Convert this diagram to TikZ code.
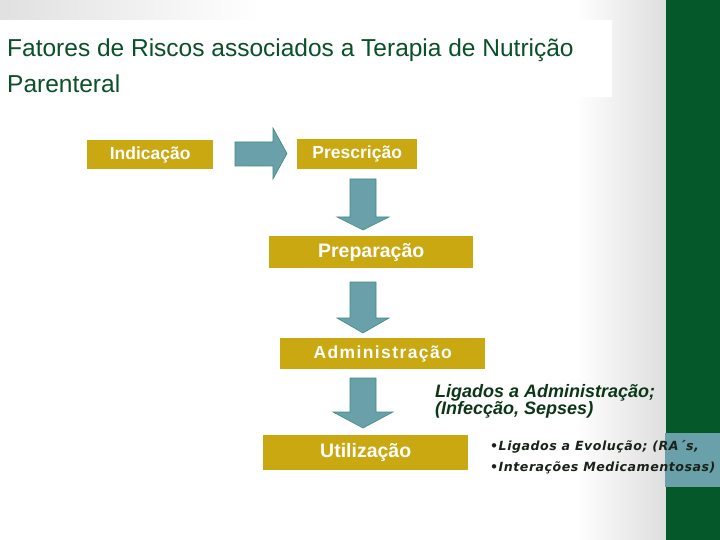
\documentclass[tikz,border=0pt]{standalone}
\usepackage{fontspec}
\setmainfont{Liberation Sans}
\newfontfamily\titlefont{Liberation Sans}
\newfontfamily\notefont[LetterSpace=4]{DejaVu Sans}
\usetikzlibrary{calc}
\definecolor{gold}{RGB}{201,168,18}
\definecolor{tealfill}{RGB}{106,160,170}
\definecolor{tealline}{RGB}{60,140,130}
\definecolor{bandgreen}{RGB}{4,88,42}
\definecolor{titlegreen}{RGB}{10,80,40}
\definecolor{notegreen}{RGB}{12,55,22}
\definecolor{notedark}{RGB}{25,35,25}
\tikzset{
  stagebox/.style={fill=gold, text=white, inner sep=0pt, anchor=north west, font=\bfseries},
  blockarrow/.style={fill=tealfill, draw=tealline, line width=0.6pt, line join=miter},
}
\begin{document}
\begin{tikzpicture}[x=1pt,y=-1pt]
\useasboundingbox (0,0) rectangle (720,540);
% background
\fill[white] (0,0) rectangle (720,540);
\shade[left color=white, right color=black!13] (575,0) rectangle (666,540);
\shade[left color=black!12, right color=white] (0,0) rectangle (260,20);
\fill[white] (0,20) rectangle (612,97);
\fill[bandgreen] (666,0) rectangle (720,540);
\fill[tealfill] (665,433) rectangle (720,487);
% title
\node[anchor=base west, inner sep=0pt, text=titlegreen, font=\titlefont\fontsize{24.5}{36}\selectfont, align=left] (title) at (7,93)
  {Fatores de Riscos associados a Terapia de Nutrição\\Parenteral};
% boxes
\node[stagebox, minimum width=126pt, minimum height=29pt, font=\bfseries\fontsize{17.5}{20}\selectfont] (ind) at (87,140) {Indicação};
\node[stagebox, minimum width=120pt, minimum height=30pt, font=\bfseries\fontsize{17.5}{20}\selectfont] (presc) at (297,139) {Prescrição};
\node[stagebox, minimum width=204pt, minimum height=32pt, font=\bfseries\fontsize{19.5}{22}\selectfont] (prep) at (269,236) {Preparação};
\node[stagebox, minimum width=205pt, minimum height=31pt, font=\bfseries\fontsize{17.5}{20}\selectfont\addfontfeature{LetterSpace=8}] (adm) at (280,338) {Administração};
\node[stagebox, minimum width=205pt, minimum height=35pt, font=\bfseries\fontsize{19.5}{22}\selectfont] (util) at (263,435) {Utilização};
% block arrows
\coordinate (h) at (235,154);
\draw[blockarrow] (h) ++(0,-12) -- ++(38,0) -- ++(0,-14) -- (287,153.5) -- (273,179) -- (273,166) -- (235,166) -- cycle;
\newcommand\blockdown[5]{%
  \draw[blockarrow] (#1-13,#2) -- (#1+13,#2) -- (#1+13,#3) -- (#1+#5,#3) -- (#1,#4) -- (#1-#5,#3) -- (#1-13,#3) -- cycle;}
\blockdown{363}{179}{217}{230}{26}
\blockdown{363}{282}{318}{333}{26}
\blockdown{363}{378}{412}{428}{30}
% notes
\node[anchor=base west, inner sep=0pt, text=notegreen, align=left, font=\bfseries\itshape\fontsize{18}{17}\selectfont] (n1) at (435,414)
  {Ligados a Administração;\\(Infecção, Sepses)};
\node[anchor=base west, inner sep=0pt, text=notedark, align=left, font=\notefont\bfseries\itshape\fontsize{12.6}{21}\selectfont] (n2) at (490,471)
  {•Ligados a Evolução; (RA´s,\\•Interações Medicamentosas)};
\end{tikzpicture}
\end{document}
